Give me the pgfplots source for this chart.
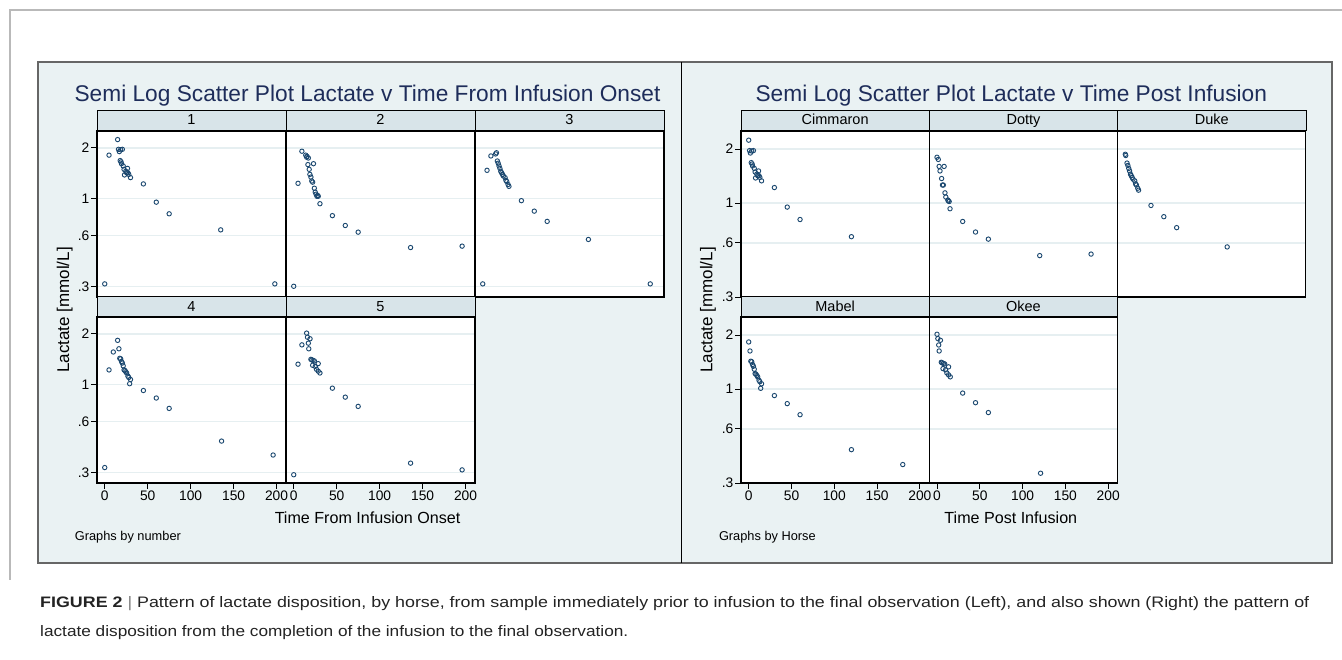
\documentclass[border=0pt]{standalone}
\usepackage{pgfplots}
\pgfplotsset{compat=1.18}
\usepackage{fontspec}
\setmainfont{Liberation Sans}
\usepackage{graphicx}
\definecolor{panelbg}{RGB}{234,242,243}
\definecolor{hdr}{RGB}{216,228,233}
\definecolor{gridc}{RGB}{230,239,241}
\definecolor{mk}{RGB}{26,71,111}
\definecolor{ttl}{RGB}{30,45,90}
\definecolor{frame}{RGB}{185,185,185}
\definecolor{captxt}{RGB}{35,35,35}
\pgfplotsset{
  every axis/.append style={scale only axis, xmin=-9, xmax=211,
    axis line style={black, line width=1.1pt},
    axis background/.style={fill=white},
    ymajorgrids, grid style={gridc, line width=1.4pt},
    tick align=outside, major tick length=6pt,
    tick style={black, line width=0.9pt},
    xtick pos=left, ytick pos=left,
    ytick={0.3,0.6,1,2}, yticklabels={.3,.6,1,2},
    xtick={0,50,100,150,200},
    ticklabel style={font=\fontsize{13.8}{13.8}\selectfont, black},
    yticklabel style={inner sep=1.5pt},
    xticklabel style={inner sep=2pt},
    /pgf/number format/assume math mode=true,
  },
  every axis plot post/.append style={color=mk, mark=o, only marks, mark size=2.2pt, line width=0.9pt, mark options={solid, draw=mk, fill=none}},
  lacleft/.style={ymin=0.259, ymax=2.52},
  lacright/.style={ymin=0.3, ymax=2.52},
  lacnoxt/.style={xtick=\empty},
  lacnoyt/.style={yticklabels={}, ytick style={draw=none}},
}
\begin{document}
\begin{tikzpicture}[x=1pt,y=1pt]
\path[fill=white, use as bounding box] (0,0) rectangle (1342,660);
% outer frame
\draw[frame, line width=1.5pt] (10,80) -- (10,650) -- (1342,650);
% panels
\fill[panelbg] (38,97) rectangle (1332,598);
\draw[gray!80!black, line width=1.5pt] (38,97) rectangle (1332,598);
\draw[black, line width=1pt] (681,97) -- (681,598);

% ---------- LEFT PANEL ----------
\node[anchor=base, inner sep=0, text=ttl] at (367.5,558.3) {\fontsize{22.7}{24}\selectfont Semi Log Scatter Plot Lactate v Time From Infusion Onset};
\node[anchor=base, inner sep=0, rotate=90] at (69.2,350) {\fontsize{17}{18}\selectfont Lactate [mmol/L]};
\node[anchor=base, inner sep=0] at (367.5,136.7) {\fontsize{16.1}{18}\selectfont Time From Infusion Onset};
\node[anchor=base west, inner sep=0] at (74.7,119.3) {\fontsize{12.8}{14}\selectfont Graphs by number};

% row 1
\begin{semilogyaxis}[lacleft, lacnoxt, at={(97pt,363pt)}, anchor=south west, width=189pt, height=166pt]
\addplot coordinates {(0,0.31) (5,1.81) (15,2.24) (16,1.96) (17,1.90) (18,1.68) (18.5,1.95) (19,1.65) (19.5,1.61) (20.5,1.96) (21.5,1.56) (22.5,1.49) (23,1.38) (24.5,1.45) (25.5,1.42) (26.5,1.51) (27,1.42) (28,1.39) (30,1.33) (45,1.22) (60,0.95) (75,0.81) (135,0.65) (198,0.31)};
\end{semilogyaxis}
\begin{semilogyaxis}[lacleft, lacnoxt, lacnoyt, at={(286pt,363pt)}, anchor=south west, width=189pt, height=166pt]
\addplot coordinates {(0,0.30) (5,1.23) (9.5,1.91) (14,1.81) (15,1.76) (15.5,1.78) (16.5,1.59) (17,1.74) (18,1.49) (18.8,1.39) (20,1.34) (21,1.27) (22,1.25) (23,1.61) (24,1.15) (25,1.09) (26,1.06) (27,1.03) (28,1.04) (28.5,1.03) (30.5,0.93) (45,0.79) (60,0.69) (75,0.63) (136,0.51) (196,0.52)};
\end{semilogyaxis}
\begin{semilogyaxis}[lacleft, lacnoxt, lacnoyt, at={(475pt,363pt)}, anchor=south west, width=189pt, height=166pt]
\addplot coordinates {(0,0.31) (5,1.47) (9.5,1.79) (15,1.84) (16,1.87) (17,1.67) (18,1.62) (19,1.56) (20,1.51) (21,1.45) (22,1.42) (23,1.39) (24,1.36) (26,1.33) (27,1.28) (28,1.26) (29.5,1.21) (30.5,1.18) (45,0.97) (60,0.84) (75,0.73) (123,0.57) (195,0.31)};
\end{semilogyaxis}
% row 2
\begin{semilogyaxis}[lacleft, at={(97pt,177pt)}, anchor=south west, width=189pt, height=166pt]
\addplot coordinates {(0,0.32) (5,1.22) (10,1.56) (15,1.83) (16.5,1.63) (17.5,1.43) (18.5,1.42) (19.5,1.37) (20.5,1.34) (21.5,1.29) (22.5,1.22) (23.5,1.21) (24.5,1.19) (25.5,1.17) (27,1.12) (28,1.10) (29,1.01) (30,1.07) (45,0.92) (60,0.83) (75,0.72) (136,0.46) (196,0.38)};
\end{semilogyaxis}
\begin{semilogyaxis}[lacleft, lacnoyt, at={(286pt,177pt)}, anchor=south west, width=189pt, height=166pt]
\addplot coordinates {(0,0.29) (5,1.32) (9.5,1.72) (15,2.02) (16,1.91) (17,1.76) (17.5,1.63) (19,1.87) (20,1.41) (21,1.40) (22,1.30) (22.5,1.39) (24,1.38) (25,1.28) (26.5,1.23) (28.5,1.33) (28.5,1.20) (30.5,1.17) (45,0.95) (60,0.84) (75,0.74) (136,0.34) (196,0.31)};
\end{semilogyaxis}
% headers left
\foreach \xa/\xb/\lab in {97/286/1, 286/475/2, 475/664/3}{
  \draw[black, line width=1pt, fill=hdr] (\xa,529) rectangle (\xb,549);
  \node[anchor=base, inner sep=0] at ({(\xa+\xb)/2},535) {\fontsize{14.5}{14.5}\selectfont \lab};
}
\foreach \xa/\xb/\lab in {97/286/4, 286/475/5}{
  \draw[black, line width=1pt, fill=hdr] (\xa,343) rectangle (\xb,363);
  \node[anchor=base, inner sep=0] at ({(\xa+\xb)/2},348.5) {\fontsize{14.5}{14.5}\selectfont \lab};
}

% ---------- RIGHT PANEL ----------
\node[anchor=base, inner sep=0, text=ttl] at (1011.3,558.3) {\fontsize{22.7}{24}\selectfont Semi Log Scatter Plot Lactate v Time Post Infusion};
\node[anchor=base, inner sep=0, rotate=90] at (712.3,350) {\fontsize{17}{18}\selectfont Lactate [mmol/L]};
\node[anchor=base, inner sep=0] at (1010.8,136.7) {\fontsize{16.1}{18}\selectfont Time Post Infusion};
\node[anchor=base west, inner sep=0] at (718.8,119.3) {\fontsize{12.8}{14}\selectfont Graphs by Horse};

\begin{semilogyaxis}[lacright, lacnoxt, at={(741pt,363pt)}, anchor=south west, width=188.3pt, height=166pt]
\addplot coordinates {(0,2.24) (1,1.96) (2,1.90) (3,1.68) (3.5,1.95) (4,1.65) (4.5,1.61) (5.5,1.96) (6.5,1.56) (7.5,1.49) (8,1.38) (9.5,1.45) (10.5,1.42) (11.5,1.51) (12,1.42) (13,1.39) (15,1.33) (30,1.22) (45,0.95) (60,0.81) (120,0.65)};
\end{semilogyaxis}
\begin{semilogyaxis}[lacright, lacnoxt, lacnoyt, at={(929.3pt,363pt)}, anchor=south west, width=188.3pt, height=166pt]
\addplot coordinates {(0,1.80) (1.5,1.75) (2.5,1.60) (3.5,1.51) (5.4,1.37) (6.4,1.26) (7.4,1.26) (8.3,1.60) (9.3,1.14) (10.3,1.08) (12.7,1.04) (13.2,1.03) (14.2,1.02) (15.2,0.93) (30,0.79) (45,0.69) (60,0.63) (120,0.51) (180,0.52)};
\end{semilogyaxis}
\begin{semilogyaxis}[lacright, lacnoxt, lacnoyt, at={(1117.6pt,363pt)}, anchor=south west, width=188.3pt, height=166pt]
\addplot coordinates {(0,1.87) (0.5,1.84) (2,1.67) (3,1.62) (4,1.56) (5,1.51) (6,1.45) (7,1.42) (8,1.39) (9,1.36) (11,1.33) (12,1.28) (13,1.26) (14.5,1.21) (15.5,1.18) (30,0.97) (45,0.84) (60,0.73) (119,0.57)};
\end{semilogyaxis}
\begin{semilogyaxis}[lacright, at={(741pt,177pt)}, anchor=south west, width=188.3pt, height=166pt]
\addplot coordinates {(0,1.83) (1.5,1.63) (2.5,1.43) (3.5,1.42) (4.5,1.37) (5.5,1.34) (6.5,1.29) (7.5,1.22) (8.5,1.21) (9.5,1.19) (10.5,1.17) (12,1.12) (13,1.10) (14,1.01) (15,1.07) (30,0.92) (45,0.83) (60,0.72) (120,0.46) (180,0.38)};
\end{semilogyaxis}
\begin{semilogyaxis}[lacright, lacnoyt, at={(929.3pt,177pt)}, anchor=south west, width=188.3pt, height=166pt]
\addplot coordinates {(0,2.02) (1,1.91) (2,1.76) (2.5,1.63) (4,1.87) (5,1.41) (6,1.40) (7,1.30) (7.5,1.39) (9,1.38) (10,1.28) (11.5,1.23) (13.5,1.33) (13.5,1.20) (15.5,1.17) (30,0.95) (45,0.84) (60,0.74) (121,0.34)};
\end{semilogyaxis}
\foreach \xa/\xb/\lab in {741/929.3/Cimmaron, 929.3/1117.6/Dotty, 1117.6/1306/Duke}{
  \draw[black, line width=1pt, fill=hdr] (\xa,529) rectangle (\xb,549);
  \node[anchor=base, inner sep=0] at ({(\xa+\xb)/2},535) {\fontsize{14.5}{14.5}\selectfont \lab};
}
\foreach \xa/\xb/\lab in {741/929.3/Mabel, 929.3/1117.6/Okee}{
  \draw[black, line width=1pt, fill=hdr] (\xa,343) rectangle (\xb,363);
  \node[anchor=base, inner sep=0] at ({(\xa+\xb)/2},348.5) {\fontsize{14.5}{14.5}\selectfont \lab};
}

% ---------- CAPTION ----------
\node[anchor=base west, inner sep=0, text=captxt] at (40,52.5) {\resizebox{1269pt}{11pt}{\textbf{FIGURE 2}\ \textcolor{gray}{|}\ Pattern of lactate disposition, by horse, from sample immediately prior to infusion to the final observation (Left), and also shown (Right) the pattern of}};
\node[anchor=base west, inner sep=0, text=captxt] at (40,23.5) {\resizebox{588pt}{11pt}{lactate disposition from the completion of the infusion to the final observation.}};
\end{tikzpicture}
\end{document}
